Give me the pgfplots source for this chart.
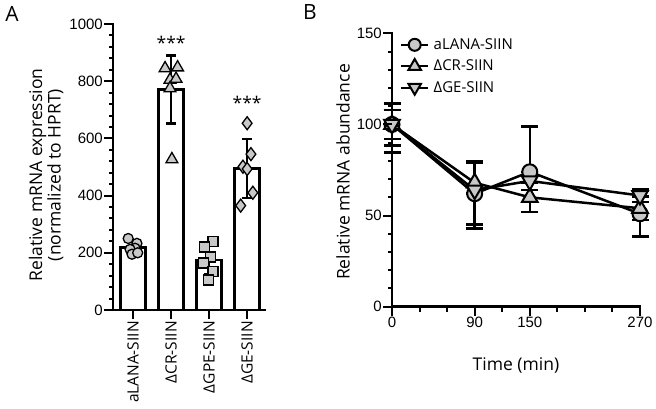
\documentclass[border=0pt]{standalone}
\usepackage{fontspec}
\setmainfont{Open Sans}
\newfontfamily\arial{Liberation Sans}
\usepackage{pgfplots}
\pgfplotsset{compat=1.18}
\usepackage{pgfplotstable}
\definecolor{mfill}{RGB}{200,200,200}

\pgfplotstableread{
x y e
1 218 20
2 771 119
3 175 49
4 495 103
}\bars
\pgfplotstableread{
x y
0.87 250
1.10 233
1.05 216
0.92 212
0.97 195
1.12 200
}\ptA
\pgfplotstableread{
x y
1.84 845
2.17 848
1.97 805
2.13 808
1.97 775
2.02 527
}\ptB
\pgfplotstableread{
x y
3.10 239
2.87 220
3.03 185
2.85 164
3.10 134
2.98 105
}\ptC
\pgfplotstableread{
x y
4.00 653
4.10 545
3.89 501
4.00 493
4.15 410
3.83 365
}\ptD

\pgfplotstableread{
x y ep em
0 100 11.5 11.5
90 62 17 17
150 74 25 10
270 51 12.5 12.5
}\La
\pgfplotstableread{
x y ep em
0 100 8 15.4
90 68 12 6
150 60 8 8
270 54 6.5 6.5
}\Cr
\pgfplotstableread{
x y ep em
0 100 8 8
90 64 16 21
150 69 5 5
270 61 3.5 3.5
}\Ge

\pgfplotsset{
  common/.style={
    scale only axis, clip=false,
    axis lines*=left,
    axis line style={line width=2.5pt, line cap=rect},
    tick align=outside, major tick length=9pt,
    tick style={draw=black, line width=2pt},
    /pgf/number format/assume math mode=true,
    /pgf/number format/1000 sep={},
    ticklabel style={font=\arial\fontsize{15}{15}\selectfont},
    yticklabel style={inner sep=1pt},
  }
}

\begin{document}
\begin{tikzpicture}
\useasboundingbox (0,0) rectangle (656pt,409pt);

% Panel A
\begin{axis}[common, at={(113pt,99pt)}, anchor=south west,
  width=152pt, height=286pt,
  xmin=0.47, xmax=4.47, ymin=0, ymax=1000,
  ytick={0,200,...,1000},
  xtick={1,2,3,4},
  xticklabels={aLANA-SIIN,ΔCR-SIIN,ΔGPE-SIIN,ΔGE-SIIN},
  xticklabel style={rotate=90, anchor=east, inner sep=2pt, font=\fontsize{15.5}{16}\selectfont},
]
\addplot[ybar, bar width=25pt, fill=white, draw=black, line width=2.5pt,
  error bars/.cd, y dir=both, y explicit,
  error bar style={line width=2.5pt},
  error mark options={rotate=90, mark size=5pt, line width=2.5pt}]
  table[x=x, y=y, y error=e] {\bars};
\addplot[only marks, mark=*, mark size=5pt, mark options={fill=mfill, draw=black, line width=1.3pt}] table {\ptA};
\addplot[only marks, mark=triangle*, mark size=6.8pt, mark options={fill=mfill, draw=black, line width=1.3pt}] table {\ptB};
\addplot[only marks, mark=square*, mark size=5pt, mark options={fill=mfill, draw=black, line width=1.3pt}] table {\ptC};
\addplot[only marks, mark=diamond*, mark size=6.5pt, mark options={fill=mfill, draw=black, line width=1.3pt}] table {\ptD};
\node[font=\fontsize{17.5}{18}\selectfont] at (axis cs:2,935) {***};
\node[font=\fontsize{17.5}{18}\selectfont] at (axis cs:4,726) {***};
\end{axis}

% Panel B
\begin{axis}[common, at={(392pt,102.3pt)}, anchor=south west,
  width=248pt, height=273.4pt,
  xmin=0, xmax=270, ymin=0, ymax=150,
  xtick={0,90,150,270},
  ytick={0,50,100,150},
  xticklabel style={inner sep=1pt},
  legend style={at={(axis cs:8.7,148)}, anchor=north west, draw=none, fill=none,
    inner sep=0pt, row sep=6pt, column sep=3pt, font=\fontsize{15}{15}\selectfont,
    nodes={inner sep=1.5pt}},
  legend cell align=left,
  legend image code/.code={
    \draw[mark repeat=2, mark phase=2, #1, line width=2pt, every mark/.append style={scale=0.8}]
      plot coordinates {(0pt,0pt) (13.5pt,0pt) (27pt,0pt)};},
]
\addplot[line width=2.5pt, black, mark=*, mark size=7.5pt,
  mark options={fill=mfill, draw=black, line width=2pt},
  error bars/.cd, y dir=both, y explicit,
  error bar style={line width=2.5pt},
  error mark options={rotate=90, mark size=8.5pt, line width=2.5pt}]
  table[x=x, y=y, y error plus=ep, y error minus=em] {\La};
\addlegendentry{aLANA-SIIN}
\addplot[line width=2.5pt, black, mark=triangle*, mark size=9pt,
  mark options={fill=mfill, draw=black, line width=2pt},
  error bars/.cd, y dir=both, y explicit,
  error bar style={line width=2.5pt},
  error mark options={rotate=90, mark size=8.5pt, line width=2.5pt}]
  table[x=x, y=y, y error plus=ep, y error minus=em] {\Cr};
\addlegendentry{ΔCR-SIIN}
\addplot[line width=2.5pt, black, mark=triangle*, mark size=9pt,
  mark options={fill=mfill, draw=black, line width=2pt, rotate=180},
  error bars/.cd, y dir=both, y explicit,
  error bar style={line width=2.5pt},
  error mark options={rotate=90, mark size=8.5pt, line width=2.5pt}]
  table[x=x, y=y, y error plus=ep, y error minus=em] {\Ge};
\addlegendentry{ΔGE-SIIN}
\end{axis}

% tick marks drawn in the picture frame
\foreach \v in {0,200,400,600,800,1000}
  {\draw[line width=2pt] (113pt,99pt) ++({0pt},{0.286*\v*1pt}) -- ++(-9pt,0pt);}
\foreach \v in {40,80,120,160,240,280,320,360,440,480,520,560,640,680,720,760,840,880,920,960}
  {\draw[line width=2pt] (113pt,99pt) ++({0pt},{0.286*\v*1pt}) -- ++(-4.5pt,0pt);}
\foreach \x in {133,171,209,247}
  {\draw[line width=2pt] (\x pt,99pt) -- ++(0pt,-7.5pt);}
\foreach \v in {0,50,100,150}
  {\draw[line width=2pt] (392pt,102.3pt) ++({0pt},{1.8227*\v*1pt}) -- ++(-9pt,0pt);}
\foreach \v in {10,20,30,40,60,70,80,90,110,120,130,140}
  {\draw[line width=2pt] (392pt,102.3pt) ++({0pt},{1.8227*\v*1pt}) -- ++(-4.5pt,0pt);}
\foreach \v in {0,90,150,270}
  {\draw[line width=2pt] (392pt,102.3pt) ++({0.91852*\v*1pt},{0pt}) -- ++(0pt,-7.5pt);}
\foreach \v in {30,60,120,180,210,240}
  {\draw[line width=2pt] (392pt,102.3pt) ++({0.91852*\v*1pt},{0pt}) -- ++(0pt,-5.5pt);}

% labels
\node[font=\fontsize{21}{21}\selectfont] at (12pt,395pt) {A};
\node[font=\fontsize{21}{21}\selectfont] at (310pt,397pt) {B};
\node[rotate=90, align=center, font=\fontsize{17.5}{17}\selectfont] at (46pt,234pt)
  {Relative mRNA expression\\(normalized to HPRT)};
\node[rotate=90, font=\fontsize{17.5}{18}\selectfont] at (343pt,237pt) {Relative mRNA abundance};
\node[font=\fontsize{17.5}{18}\selectfont] at (516pt,44pt) {Time (min)};
\end{tikzpicture}
\end{document}
